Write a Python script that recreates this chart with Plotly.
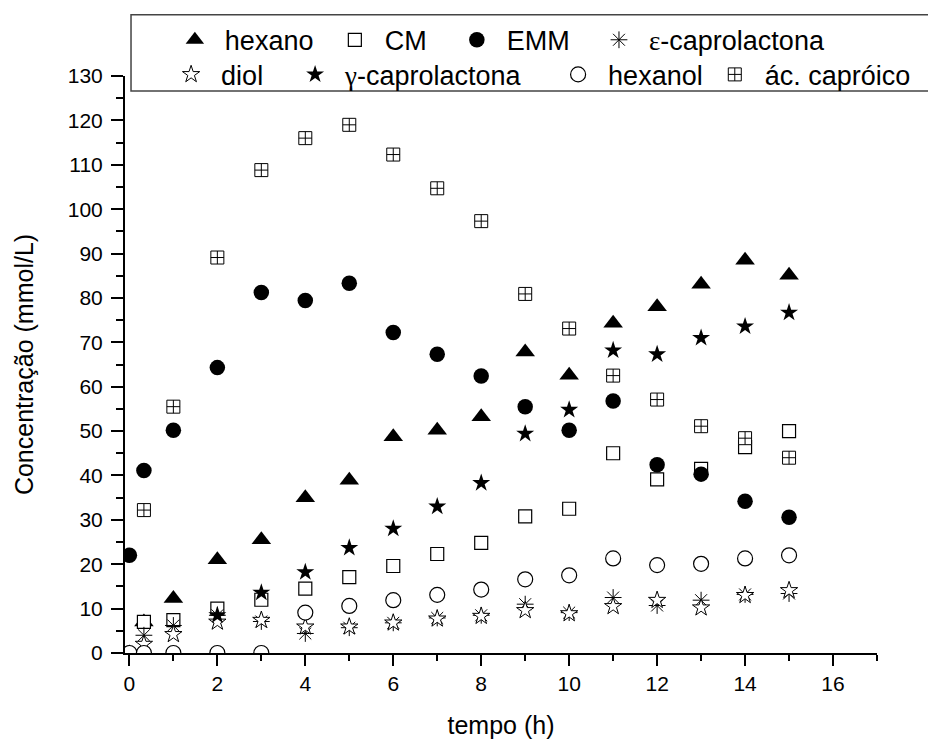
import plotly.graph_objects as go

# sampling times (h)
tempo = [0, 0.33, 1, 2, 3, 4, 5, 6, 7, 8, 9, 10, 11, 12, 13, 14, 15]

# concentrations (mmol/L); None = not measured / not detected
hexano = [0, 7, 12.3, 21, 25.5, 35, 38.9, 48.7, 50.2, 53.2, 67.8, 62.6, 74.3, 78, 83.1, 88.5, 85.1]
cm = [None, 7, 7.4, 10, 12, 14.5, 17.1, 19.6, 22.3, 24.8, 30.8, 32.5, 45, 39.1, 41.5, 46.4, 50]
emm = [22, 41.1, 50.2, 64.3, 81.2, 79.4, 83.3, 72.2, 67.3, 62.4, 55.5, 50.2, 56.8, 42.4, 40.3, 34.2, 30.6]
eps_caprolactona = [None, 4, 6.2, 8.5, 7.1, 4.4, 5.7, 6.8, 7.9, 8.5, 11, 9.1, 12.5, 10.7, 11.9, 13.2, 13.4]
diol = [None, 2, 4.2, 7, 7.4, 5.9, 5.9, 6.8, 7.7, 8.3, 9.6, 8.9, 10.5, 11.9, 10.2, 13, 14.1]
gama_caprolactona = [None, None, None, 8.5, 13.6, 18.2, 23.7, 28, 33, 38.3, 49.4, 54.8, 68.2, 67.3, 71, 73.6, 76.7]
hexanol = [0, 0, 0, 0, 0, 9.1, 10.6, 11.9, 13.1, 14.3, 16.6, 17.5, 21.3, 19.8, 20.1, 21.3, 22]
ac_caproico = [None, 32.2, 55.5, 89.1, 108.8, 116, 119, 112.3, 104.7, 97.3, 80.9, 73.1, 62.5, 57.1, 51.1, 48.4, 44]

FONT = "Liberation Sans, Arial, sans-serif"
GREEK = "font-family:Liberation Serif, DejaVu Serif, serif"

series = [
    # name, values, symbol, size, fill, line width, legend box, entry width
    ("hexano", hexano, "triangle-up", 17, "black", 0, "legend", 95),
    ("CM", cm, "square", 13, "white", 1.2, "legend", 57),
    ("EMM", emm, "circle", 15.5, "black", 0, "legend", None),
    (f"<span style=\"{GREEK}\">ε</span>-caprolactona", eps_caprolactona,
     "asterisk-open", 14, "black", 1, "legend2", None),
    ("diol", diol, "star", 13, "white", 1, "legend3", 59),
    (f"<span style=\"{GREEK}\">γ</span>-caprolactona", gama_caprolactona,
     "star", 13.5, "black", 0, "legend3", 198),
    ("hexanol", hexanol, "circle", 15, "white", 1.2, "legend3", None),
    ("ác. capróico", ac_caproico, "square-cross", 13, "white", 1, "legend4", None),
]

fig = go.Figure()
for name, vals, sym, size, fill, lw, leg, lwid in series:
    fig.add_trace(go.Scatter(
        x=tempo, y=vals, name=name, mode="markers",
        legend=leg, legendwidth=lwid,
        marker=dict(symbol=sym, size=size, color=fill,
                    line=dict(color="black", width=lw)),
        cliponaxis=True,
    ))

legend_common = dict(
    orientation="h", xanchor="left", yanchor="middle",
    bgcolor="rgba(0,0,0,0)", borderwidth=0, itemwidth=50,
    font=dict(family=FONT, size=27, color="black"),
    itemsizing="trace", traceorder="normal",
)
ROW1, ROW2 = 1.062, 1.002

fig.update_layout(
    width=928, height=739,
    margin=dict(l=125, r=47, t=76, b=86),
    paper_bgcolor="white", plot_bgcolor="white",
    font=dict(family=FONT, color="black"),
    legend=dict(x=0.053, y=ROW1, **legend_common),
    legend2=dict(x=0.617, y=ROW1, **legend_common),
    legend3=dict(x=0.048, y=ROW2, **legend_common),
    legend4=dict(x=0.771, y=ROW2, **legend_common),
    shapes=[dict(type="rect", xref="paper", yref="paper",
                 x0=0.008, x1=1.07, y0=0.974, y1=1.106,
                 line=dict(color="#444", width=1.5), layer="above")],
)

axis_common = dict(
    showline=True, linecolor="black", linewidth=2,
    showgrid=False, zeroline=False, automargin=False,
    ticks="outside", tickwidth=2, tickcolor="black",
    tickfont=dict(family=FONT, size=21, color="black"),
)

fig.update_xaxes(
    range=[-0.1, 17], tick0=0, dtick=2, ticklen=11,
    minor=dict(dtick=1, ticks="outside", ticklen=6, tickwidth=2, tickcolor="black"),
    title=dict(text="tempo (h)", font=dict(family=FONT, size=25), standoff=25),
    **axis_common,
)
fig.update_yaxes(
    range=[0, 130], tick0=0, dtick=10, ticklen=12, ticklabelstandoff=4,
    minor=dict(dtick=5, ticks="outside", ticklen=7, tickwidth=2, tickcolor="black"),
    title=dict(text="Concentração (mmol/L)", font=dict(family=FONT, size=25), standoff=27),
    **axis_common,
)

fig.write_html("out.html")
